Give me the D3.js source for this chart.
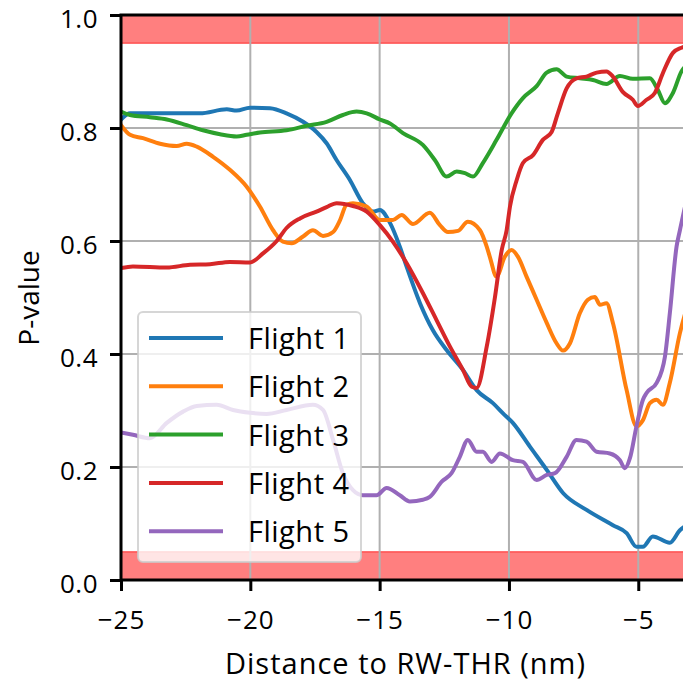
<!DOCTYPE html>
<html>
<head>
<meta charset="utf-8">
<script src="https://cdn.jsdelivr.net/npm/d3@7"></script>
<style>
html,body{margin:0;padding:0;background:#fff;overflow:hidden;}
svg{display:block;font-family:"Open Sans","Noto Sans",sans-serif;}
</style>
</head>
<body>
<svg id="chart" width="683" height="681"></svg>
<script>
// ---- data ----
const seriesNames = ["Flight 1", "Flight 2", "Flight 3", "Flight 4", "Flight 5"];
const seriesColors = ["#1f77b4", "#ff7f0e", "#2ca02c", "#d62728", "#9467bd"];

const f1x = [-25, -24.65, -23.5, -22.5, -21.95, -20.91, -20.53, -20.01, -19.24, -18.6, -17.96, -17.44, -17.05, -16.66, -16.15, -15.65, -15.26, -14.99, -14.6, -14.22, -13.96, -13.44, -12.94, -12.41, -11.78, -11.25, -10.62, -10.23, -9.85, -9.19, -8.54, -7.91, -7.0, -5.98, -5.45, -5.07, -4.82, -4.44, -3.78, -3.39, -3.0];
const f1y = [0.815, 0.826, 0.826, 0.826, 0.826, 0.833, 0.831, 0.836, 0.835, 0.826, 0.811, 0.793, 0.773, 0.743, 0.708, 0.667, 0.652, 0.655, 0.632, 0.59, 0.555, 0.49, 0.442, 0.407, 0.372, 0.336, 0.313, 0.295, 0.278, 0.236, 0.195, 0.154, 0.124, 0.097, 0.083, 0.059, 0.059, 0.077, 0.066, 0.088, 0.1];

const f2x = [-25, -24.65, -24.15, -23.49, -22.85, -22.46, -22.07, -21.44, -20.79, -20.14, -19.63, -19.12, -18.74, -18.4, -17.96, -17.58, -17.19, -16.8, -16.53, -16.28, -16.03, -15.5, -14.99, -14.49, -14.15, -13.71, -13.06, -12.67, -12.36, -11.97, -11.59, -11.12, -10.86, -10.74, -10.48, -10.16, -9.9, -9.65, -9.32, -8.93, -8.54, -8.16, -7.91, -7.64, -7.26, -6.95, -6.68, -6.48, -6.23, -5.98, -5.45, -5.07, -4.82, -4.55, -4.29, -4.05, -3.78, -3.39, -3.0];
const f2y = [0.805, 0.788, 0.782, 0.772, 0.768, 0.772, 0.767, 0.749, 0.726, 0.696, 0.661, 0.619, 0.599, 0.596, 0.608, 0.619, 0.609, 0.616, 0.637, 0.664, 0.667, 0.661, 0.637, 0.637, 0.646, 0.63, 0.65, 0.628, 0.616, 0.618, 0.634, 0.619, 0.59, 0.572, 0.537, 0.572, 0.584, 0.572, 0.537, 0.496, 0.455, 0.419, 0.406, 0.419, 0.472, 0.496, 0.501, 0.487, 0.49, 0.455, 0.336, 0.272, 0.283, 0.313, 0.319, 0.31, 0.349, 0.437, 0.5];

const f3x = [-25, -24.65, -23.88, -23.23, -22.46, -21.83, -21.17, -20.53, -20.14, -19.63, -18.6, -17.82, -17.05, -16.42, -15.89, -15.5, -14.99, -14.6, -14.1, -13.33, -12.86, -12.41, -12.02, -11.7, -11.39, -11.01, -10.48, -9.9, -9.46, -8.93, -8.54, -8.16, -7.77, -7.26, -6.75, -6.23, -5.71, -5.21, -4.55, -4.24, -3.97, -3.66, -3.33, -3.0];
const f3y = [0.829, 0.823, 0.819, 0.815, 0.805, 0.796, 0.789, 0.785, 0.788, 0.792, 0.796, 0.804, 0.811, 0.823, 0.829, 0.826, 0.815, 0.808, 0.791, 0.77, 0.743, 0.714, 0.723, 0.72, 0.714, 0.738, 0.779, 0.826, 0.853, 0.874, 0.898, 0.904, 0.891, 0.888, 0.885, 0.878, 0.892, 0.887, 0.888, 0.867, 0.844, 0.862, 0.9, 0.915];

const f4x = [-25, -24.54, -23.23, -22.33, -21.56, -20.79, -20.01, -19.51, -18.98, -18.6, -18.08, -17.44, -17.05, -16.66, -16.03, -15.5, -14.99, -14.49, -13.96, -13.33, -12.8, -12.28, -11.78, -11.44, -11.25, -10.86, -10.54, -10.28, -10.09, -9.96, -9.7, -9.46, -9.07, -8.69, -8.35, -8.11, -7.77, -7.39, -7.0, -6.61, -6.23, -5.98, -5.6, -5.21, -5.02, -4.68, -4.36, -4.05, -3.66, -3.33, -3.0];
const f4y = [0.552, 0.555, 0.553, 0.558, 0.559, 0.563, 0.562, 0.578, 0.600, 0.623, 0.64, 0.652, 0.66, 0.667, 0.662, 0.652, 0.628, 0.599, 0.561, 0.508, 0.46, 0.413, 0.372, 0.342, 0.34, 0.413, 0.501, 0.584, 0.619, 0.661, 0.708, 0.738, 0.752, 0.779, 0.793, 0.826, 0.87, 0.888, 0.891, 0.898, 0.9, 0.891, 0.864, 0.85, 0.839, 0.85, 0.862, 0.897, 0.933, 0.942, 0.946];

const f5x = [-25, -24.54, -23.88, -23.23, -22.6, -22.07, -21.3, -20.67, -20.01, -19.37, -18.6, -17.58, -17.19, -16.8, -16.42, -16.03, -15.65, -15.12, -14.73, -14.22, -13.83, -13.33, -13.06, -12.6, -12.22, -11.9, -11.59, -11.25, -11.01, -10.67, -10.35, -9.85, -9.46, -8.93, -8.54, -8.22, -7.77, -7.39, -7.0, -6.61, -6.1, -5.71, -5.52, -5.32, -5.07, -4.82, -4.68, -4.29, -3.97, -3.78, -3.52, -3.39, -3.0];
const f5y = [0.261, 0.257, 0.251, 0.278, 0.298, 0.308, 0.31, 0.301, 0.296, 0.294, 0.301, 0.31, 0.301, 0.248, 0.189, 0.159, 0.15, 0.15, 0.163, 0.15, 0.139, 0.142, 0.147, 0.174, 0.189, 0.218, 0.248, 0.227, 0.227, 0.209, 0.224, 0.212, 0.209, 0.177, 0.186, 0.189, 0.218, 0.248, 0.245, 0.227, 0.224, 0.212, 0.198, 0.216, 0.272, 0.319, 0.331, 0.349, 0.395, 0.472, 0.59, 0.619, 0.7];

const xTicks = [-25, -20, -15, -10, -5];
const yTicks = [0.0, 0.2, 0.4, 0.6, 0.8, 1.0];
const bandLow = [0, 0.05];
const bandHigh = [0.95, 1.0];
const xDomain = [-25, -3];
const yDomain = [0, 1];
const xLabel = "Distance to RW-THR (nm)";
const yLabel = "P-value";

// ---- layout ----
const mL = 121, mR = 690, mT = 15, mB = 580;
const FONT = "'Open Sans', 'Noto Sans', sans-serif";
const svg = d3.select("#chart");
const x = d3.scaleLinear().domain(xDomain).range([mL, mR]);
const y = d3.scaleLinear().domain(yDomain).range([mB, mT]);

svg.append("defs").append("clipPath").attr("id", "clip")
  .append("rect").attr("x", mL).attr("y", mT).attr("width", mR - mL).attr("height", mB - mT);

// bands
[bandLow, bandHigh].forEach(b => {
  svg.append("rect")
    .attr("x", mL).attr("width", mR - mL)
    .attr("y", y(b[1])).attr("height", y(b[0]) - y(b[1]))
    .attr("fill", "#ff0000").attr("fill-opacity", 0.5)
    .attr("stroke", "#ff0000").attr("stroke-opacity", 0.5).attr("stroke-width", 1.5);
});

// grid
const grid = svg.append("g");
grid.selectAll("line.gx").data(xTicks).join("line").attr("class", "gx")
  .attr("x1", d => x(d)).attr("x2", d => x(d)).attr("y1", mT).attr("y2", mB)
  .attr("stroke", "#b0b0b0").attr("stroke-width", 2);
grid.selectAll("line.gy").data(yTicks).join("line").attr("class", "gy")
  .attr("y1", d => y(d)).attr("y2", d => y(d)).attr("x1", mL).attr("x2", mR)
  .attr("stroke", "#b0b0b0").attr("stroke-width", 2);

// lines
const series = [[f1x, f1y], [f2x, f2y], [f3x, f3y], [f4x, f4y], [f5x, f5y]];
const line = d3.line().x(d => x(d[0])).y(d => y(d[1])).curve(d3.curveMonotoneX);
const lg = svg.append("g").attr("clip-path", "url(#clip)");
series.forEach((s, i) => {
  const pts = s[0].map((v, k) => [v, s[1][k]]);
  lg.append("path").attr("d", line(pts)).attr("fill", "none")
    .attr("stroke", seriesColors[i]).attr("stroke-width", 4)
    .attr("stroke-linejoin", "round").attr("stroke-linecap", "square");
});

// axes
const fmtY = d3.format(".1f");
const xAxis = svg.append("g").attr("transform", `translate(0,${mB})`)
  .call(d3.axisBottom(x).tickValues(xTicks).tickSize(11).tickPadding(6).tickFormat(d3.format("d")));
const yAxis = svg.append("g").attr("transform", `translate(${mL},0)`)
  .call(d3.axisLeft(y).tickValues(yTicks).tickSize(11).tickPadding(12).tickFormat(fmtY));
[xAxis, yAxis].forEach(a => {
  a.select(".domain").remove();
  a.selectAll(".tick line").attr("stroke", "#000").attr("stroke-width", 3);
  a.selectAll(".tick text").attr("fill", "#000").attr("font-size", 26).attr("font-family", FONT);
});
xAxis.selectAll(".tick text").attr("dy", null).attr("y", 49).attr("letter-spacing", 1);
yAxis.selectAll(".tick text").attr("dy", 12).attr("letter-spacing", 0.5);

// spines
svg.append("rect").attr("x", mL).attr("y", mT).attr("width", mR - mL).attr("height", mB - mT)
  .attr("fill", "none").attr("stroke", "#000").attr("stroke-width", 3);

// axis labels
svg.append("text").attr("x", (mL + mR) / 2).attr("y", 674).attr("text-anchor", "middle")
  .attr("font-family", FONT).attr("font-size", 29).attr("letter-spacing", 1.0).attr("fill", "#000").text(xLabel);
svg.append("text").attr("transform", `translate(39,298) rotate(-90)`).attr("text-anchor", "middle")
  .attr("font-family", FONT).attr("font-size", 28).attr("fill", "#000").text(yLabel);

// legend
const leg = svg.append("g");
leg.append("rect").attr("x", 138).attr("y", 312).attr("width", 223).attr("height", 250).attr("rx", 5)
  .attr("fill", "#fff").attr("fill-opacity", 0.8).attr("stroke", "#cccccc").attr("stroke-opacity", 0.8).attr("stroke-width", 2);
seriesNames.forEach((n, i) => {
  const yy = 338 + i * 48.3;
  leg.append("line").attr("x1", 149).attr("x2", 223).attr("y1", yy).attr("y2", yy)
    .attr("stroke", seriesColors[i]).attr("stroke-width", 4);
  leg.append("text").attr("x", 248).attr("y", yy + 11).attr("font-family", FONT).attr("font-size", 29)
    .attr("letter-spacing", 0.5).attr("fill", "#000").text(n);
});
</script>
</body>
</html>
